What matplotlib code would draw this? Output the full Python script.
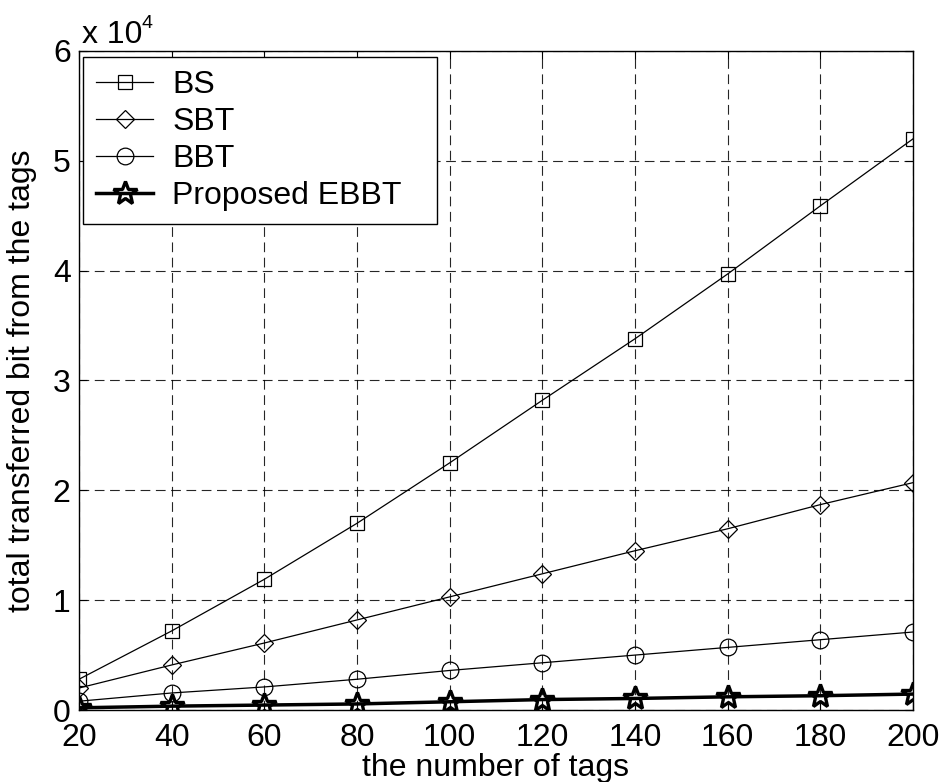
import matplotlib
matplotlib.use("Agg")
import matplotlib.pyplot as plt

plt.rcParams['font.family'] = ['Liberation Sans', 'DejaVu Sans']
plt.rcParams['lines.scale_dashes'] = False

tags = [20, 40, 60, 80, 100, 120, 140, 160, 180, 200]
bs = [2800, 7200, 11900, 17000, 22500, 28200, 33800, 39700, 45900, 52000]
sbt = [2000, 4100, 6100, 8200, 10300, 12400, 14500, 16500, 18700, 20700]
bbt = [800, 1550, 2100, 2800, 3600, 4300, 5000, 5700, 6400, 7100]
ebbt = [200, 350, 450, 550, 750, 950, 1050, 1200, 1300, 1450]

xticks = [20, 40, 60, 80, 100, 120, 140, 160, 180, 200]
yticks = [0, 10000, 20000, 30000, 40000, 50000, 60000]
ytick_labels = ['0', '1', '2', '3', '4', '5', '6']

FS = 23

fig = plt.figure(figsize=(9.45, 7.82), dpi=100)
ax = fig.add_axes([79/945, 1-710/782, (913-79)/945, (710-51)/782])

ax.plot(tags, bs, color='k', lw=0.9, marker='s', ms=10, mfc='none', mew=0.9, label='BS')
ax.plot(tags, sbt, color='k', lw=0.9, marker='D', ms=9, mfc='none', mew=0.9, label='SBT')
ax.plot(tags, bbt, color='k', lw=0.9, marker='o', ms=12, mfc='none', mew=0.9, label='BBT')
ax.plot(tags, ebbt, color='k', lw=2.5, marker='*', ms=18, mfc='none', mew=2.4, label='Proposed EBBT')

ax.set_xlim(20, 200)
ax.set_ylim(0, 60000)
ax.set_xticks(xticks)
ax.set_xticklabels([str(t) for t in xticks])
ax.set_yticks(yticks)
ax.set_yticklabels(ytick_labels)

ax.grid(True, color='k', linestyle=(0, (7, 4)), linewidth=0.8, alpha=0.85)
ax.tick_params(direction='in', length=6, width=0.8, top=True, right=True, labelsize=FS)
ax.tick_params(axis='x', pad=9)
ax.tick_params(axis='y', pad=6)
for s in ax.spines.values():
    s.set_linewidth(1.0)
    s.set_color('k')

ax.set_xlabel('the number of tags', fontsize=FS)
ax.set_ylabel('total transferred bit from the tags', fontsize=FS)
ax.xaxis.set_label_coords(0.5, -0.066)
ax.yaxis.set_label_coords(-0.05, 0.5)

ax.text(0.004, 1.012, 'x 10', transform=ax.transAxes, fontsize=FS, ha='left', va='baseline')
ax.text(0.0755, 1.035, '4', transform=ax.transAxes, fontsize=14, ha='left', va='baseline')

leg = ax.legend(loc='upper left', bbox_to_anchor=(0.0048, 0.991, 0.4245, 0.0), mode='expand',
                fontsize=FS, frameon=True, fancybox=False,
                edgecolor='k', framealpha=1, borderaxespad=0.0, handlelength=1.8,
                handletextpad=0.6, labelspacing=0.22, borderpad=0.4)
leg.get_frame().set_linewidth(1.0)

fig.savefig('out.png', dpi=100)
